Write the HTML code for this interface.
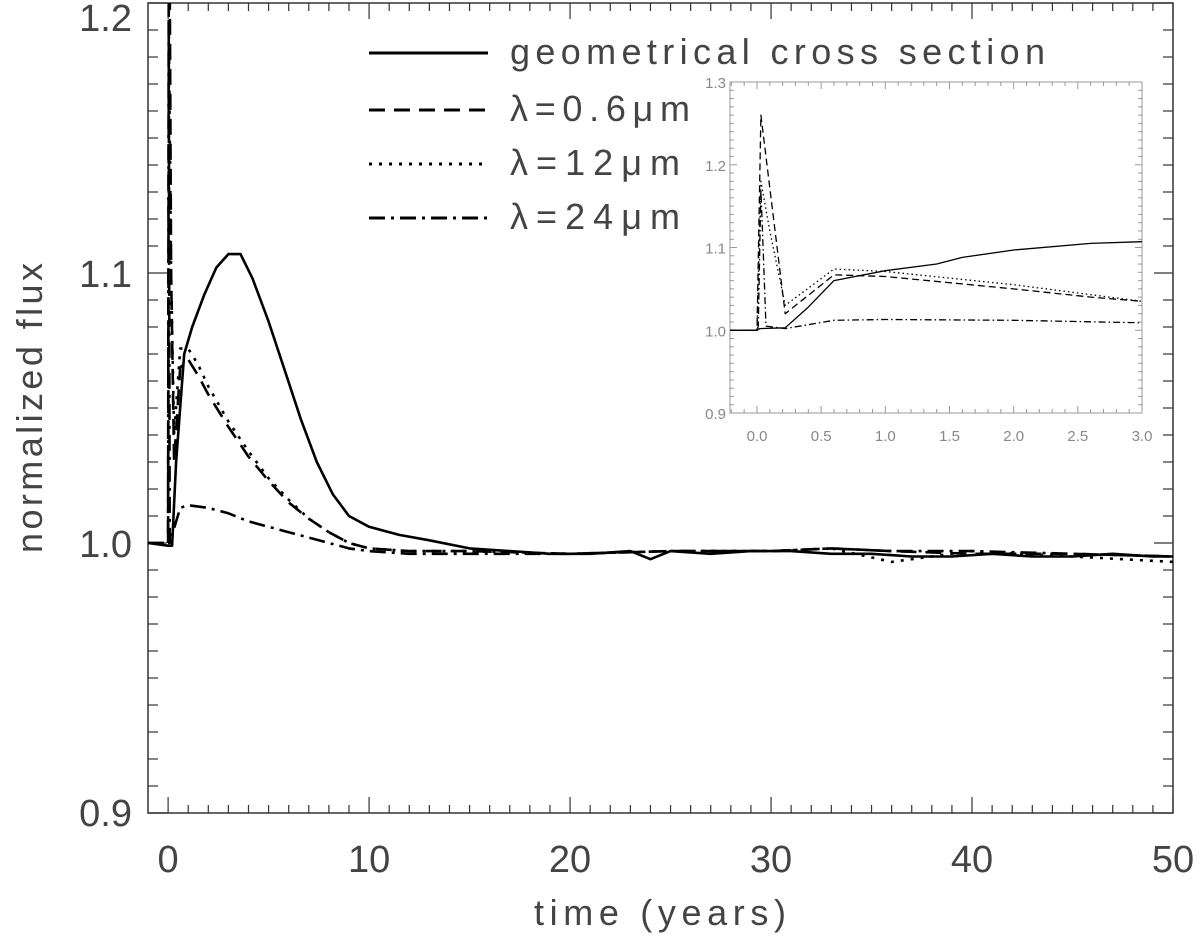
<!DOCTYPE html>
<html><head><meta charset="utf-8"><style>
html,body{margin:0;padding:0;background:#fff;}
svg{display:block;font-family:"Liberation Sans",sans-serif;}
</style></head><body>
<svg id="chart" width="1200" height="936" viewBox="0 0 1200 936" xmlns="http://www.w3.org/2000/svg">
<defs>
<clipPath id="mainClip"><rect x="148" y="3" width="1025" height="810"/></clipPath>
<clipPath id="insetClip"><rect x="730" y="82" width="412" height="331"/></clipPath>
</defs>
<rect x="728" y="80" width="416" height="336" fill="#fff"/>
<g id="main"></g>
<g id="inset"></g>
<text transform="translate(42,408) rotate(-90)" text-anchor="middle" font-size="36" fill="#444" textLength="290">normalized flux</text>
<text x="660" y="925" text-anchor="middle" font-size="36" fill="#444" textLength="252">time (years)</text>
<g>
  <line x1="369" y1="53" x2="488" y2="53" stroke="#000" stroke-width="3"/>
  <text x="510" y="64" font-size="36" fill="#444" textLength="535">geometrical cross section</text>
  <line x1="369" y1="110" x2="488" y2="110" stroke="#000" stroke-width="3" stroke-dasharray="16,9"/>
  <text x="510" y="121" font-size="36" fill="#444" textLength="180">λ=0.6μm</text>
  <line x1="369" y1="164" x2="488" y2="164" stroke="#000" stroke-width="3" stroke-dasharray="3,7"/>
  <text x="510" y="175" font-size="36" fill="#444" textLength="170">λ=12μm</text>
  <line x1="369" y1="218" x2="488" y2="218" stroke="#000" stroke-width="3" stroke-dasharray="16,6,3,6"/>
  <text x="510" y="229" font-size="36" fill="#444" textLength="170">λ=24μm</text>
</g>
<script>
// main panel data
const mainSolidT = [-1,0,0.2,0.4,0.8,1.2,1.8,2.4,3,3.6,4.2,5,5.8,6.6,7.4,8.2,9,10,11.5,13,15,17,19,21,23,24,25,27,29,31,33,35,37,39,41,43,45,47,49,50];
const mainSolidY = [1.0,0.999,0.999,1.03,1.07,1.08,1.092,1.102,1.107,1.107,1.098,1.082,1.064,1.046,1.030,1.018,1.010,1.006,1.003,1.001,0.998,0.997,0.996,0.996,0.997,0.994,0.997,0.996,0.997,0.997,0.996,0.996,0.995,0.995,0.996,0.995,0.995,0.996,0.995,0.995];
const mainDashT = [-1,0,0.05,0.15,0.3,0.6,1,1.5,2,3,4,5,6,7,8,9,10,12,15,20,25,30,33,36,40,45,50];
const mainDashY = [1.0,1.0,1.26,1.1,1.03,1.065,1.068,1.062,1.055,1.043,1.032,1.023,1.015,1.009,1.004,1.0,0.998,0.997,0.997,0.996,0.997,0.997,0.998,0.997,0.996,0.996,0.995];
const mainDotT = [-1,0,0.05,0.15,0.3,0.6,1,1.5,2,3,4,5,6,7,8,9,10,12,15,20,25,30,33,36,38,40,45,50];
const mainDotY = [1.0,1.0,1.18,1.1,1.04,1.072,1.072,1.066,1.058,1.045,1.034,1.024,1.016,1.009,1.004,1.0,0.998,0.997,0.997,0.996,0.997,0.997,0.998,0.993,0.995,0.997,0.995,0.993];
const mainDashDotT = [-1,0,0.03,0.08,0.2,0.6,1,2,3,4,5,6,7,8,9,10,12,15,20,25,30,33,36,40,45,50];
const mainDashDotY = [1.0,1.0,1.2,1.0,1.003,1.013,1.014,1.013,1.011,1.008,1.006,1.004,1.002,1.0,0.998,0.997,0.996,0.996,0.996,0.997,0.997,0.998,0.997,0.997,0.996,0.995];
const mainXTicks = [0,10,20,30,40,50];
const mainYTicks = [0.9,1.0,1.1,1.2];
// inset data
const insSolidT = [-0.21,0,0.02,0.22,0.4,0.6,1.0,1.4,1.6,2.0,2.6,3.0];
const insSolidY = [1.0,1.0,1.002,1.003,1.028,1.06,1.072,1.08,1.088,1.097,1.105,1.107];
const insDashT = [-0.21,0,0.03,0.22,0.6,1.0,2.0,2.6,3.0];
const insDashY = [1.0,1.0,1.26,1.02,1.067,1.065,1.05,1.04,1.035];
const insDotT = [-0.21,0,0.03,0.1,0.22,0.6,1.0,2.0,3.0];
const insDotY = [1.0,1.0,1.18,1.12,1.03,1.074,1.071,1.055,1.035];
const insDashDotT = [-0.21,0,0.01,0.03,0.07,0.22,0.6,1.0,2.0,3.0];
const insDashDotY = [1.0,1.0,1.005,1.17,1.005,1.002,1.012,1.013,1.012,1.009];
const insXTicks = [0.0,0.5,1.0,1.5,2.0,2.5,3.0];
const insYTicks = [0.9,1.0,1.1,1.2,1.3];

const NS="http://www.w3.org/2000/svg";
function mk(tag,attrs,parent){const e=document.createElementNS(NS,tag);for(const k in attrs)e.setAttribute(k,attrs[k]);parent.appendChild(e);return e;}

// main axes
const mx0=148,mx1=1173,my0=813,my1=3;
const mX=t=>mx0+(t-(-1))/(51)*(mx1-mx0);
const mY=v=>my0-(v-0.9)/0.3*(my0-my1);
const gm=document.getElementById('main');
const frame=mk('rect',{x:mx0,y:my1,width:mx1-mx0,height:my0-my1,fill:'none',stroke:'#333','stroke-width':1.5},gm);


for(let t=0;t<=50;t++){const x=mX(t),L=(t%10===0)?16:8;
  const a=mk('line',{x1:x,y1:my0,x2:x,y2:my0-L,stroke:'#333','stroke-width':1.2},gm);
  
  
  const b=mk('line',{x1:x,y1:my1,x2:x,y2:my1+L,stroke:'#333','stroke-width':1.2},gm);
  
  }
for(let i=0;i<=30;i++){const v=0.9+i*0.01,y=mY(v),L=(i%10===0)?19:10;
  const a=mk('line',{x1:mx0,y1:y,x2:mx0+L,y2:y,stroke:'#333','stroke-width':1.2},gm);
  
  
  const b=mk('line',{x1:mx1,y1:y,x2:mx1-L,y2:y,stroke:'#333','stroke-width':1.2},gm);
  
  }
mainXTicks.forEach(t=>{const e=mk('text',{x:mX(t),y:872,'text-anchor':'middle','font-size':38,fill:'#444'},gm);e.textContent=String(t);
  
  });
mainYTicks.forEach(v=>{const e=mk('text',{x:132,y:Math.min(Math.max(mY(v)+14,31),826),'text-anchor':'end','font-size':38,fill:'#444'},gm);e.textContent=v.toFixed(1);
  
  });
function series(g,T,Y,fx,fy,dash,w,clip,name){
  const d=T.map((t,i)=>(i?'L':'M')+fx(t).toFixed(1)+','+fy(Y[i]).toFixed(1)).join('');
  const p=mk('path',{d:d,fill:'none',stroke:'#000','stroke-width':w,'stroke-dasharray':dash,'clip-path':clip,'stroke-linejoin':'round'},g);
  
  }
series(gm,mainSolidT,mainSolidY,mX,mY,'none',2.6,'url(#mainClip)');

series(gm,mainDashT,mainDashY,mX,mY,'16,9',2.6,'url(#mainClip)');

series(gm,mainDotT,mainDotY,mX,mY,'3,7',2.6,'url(#mainClip)');

series(gm,mainDashDotT,mainDashDotY,mX,mY,'16,6,3,6',2.6,'url(#mainClip)');


// inset
const ix0=730,ix1=1142,iy0=413,iy1=82;
const iX=t=>757+t*(ix1-757)/3;
const iY=v=>iy0-(v-0.9)/0.4*(iy0-iy1);
const gi=document.getElementById('inset');
const ifr=mk('rect',{x:ix0,y:iy1,width:ix1-ix0,height:iy0-iy1,fill:'none',stroke:'#999','stroke-width':1},gi);


for(let i=-2;i<=30;i++){const x=iX(i/10),L=(i%5===0)?7:4;
  const a=mk('line',{x1:x,y1:iy0,x2:x,y2:iy0-L,stroke:'#999','stroke-width':1},gi);
  
  
  const b=mk('line',{x1:x,y1:iy1,x2:x,y2:iy1+L,stroke:'#999','stroke-width':1},gi);
  
  }
for(let i=0;i<=40;i++){const y=iY(0.9+i*0.01),L=(i%10===0)?7:4;
  const a=mk('line',{x1:ix0,y1:y,x2:ix0+L,y2:y,stroke:'#999','stroke-width':1},gi);
  
  
  const b=mk('line',{x1:ix1,y1:y,x2:ix1-L,y2:y,stroke:'#999','stroke-width':1},gi);
  
  }
insXTicks.forEach(t=>{const e=mk('text',{x:iX(t),y:441,'text-anchor':'middle','font-size':15,fill:'#888'},gi);e.textContent=t.toFixed(1);
  
  });
insYTicks.forEach(v=>{const e=mk('text',{x:726,y:iY(v)+6,'text-anchor':'end','font-size':15,fill:'#888'},gi);e.textContent=v.toFixed(1);
  
  });
series(gi,insSolidT,insSolidY,iX,iY,'none',1.3,'url(#insetClip)');

series(gi,insDashT,insDashY,iX,iY,'7,4',1.3,'url(#insetClip)');

series(gi,insDotT,insDotY,iX,iY,'1.5,3',1.3,'url(#insetClip)');

series(gi,insDashDotT,insDashDotY,iX,iY,'7,3,1.5,3',1.3,'url(#insetClip)');

</script>
</svg>
</body></html>
